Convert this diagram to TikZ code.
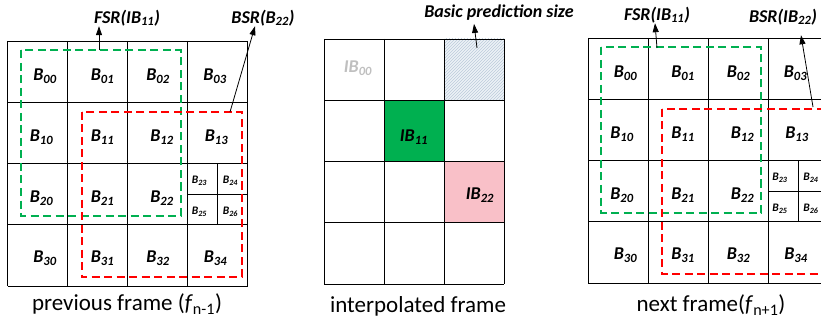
\documentclass[tikz,border=0pt]{standalone}
\usepackage{fontspec}
\setmainfont{Carlito}
\usepackage{tikz}
\usetikzlibrary{arrows.meta,patterns}
\definecolor{fsrc}{HTML}{00B050}
\definecolor{bsrc}{HTML}{FF0000}
\definecolor{pinkc}{HTML}{F9C0C8}
\definecolor{hatchbg}{HTML}{EDF2F7}
\definecolor{hatchc}{HTML}{BCCADA}
\newcommand{\blk}[2]{#1\textsubscript{#2}}
\tikzset{
  grd/.style={draw=black,line width=0.8pt},
  fsr/.style={draw=fsrc,line width=2pt,dash pattern=on 8pt off 4.5pt},
  bsr/.style={draw=bsrc,line width=2pt,dash pattern=on 8pt off 4.5pt},
  lb/.style={font=\fontsize{18}{21}\selectfont\bfseries\itshape,inner sep=0pt},
  slb/.style={font=\fontsize{11.5}{13}\selectfont\bfseries\itshape,inner sep=0pt},
  frcap/.style={font=\fontsize{23}{26}\selectfont,inner sep=0pt},
  ar/.style={-{Triangle[length=9pt,width=6pt]},line width=0.8pt},
  blockgrid/.pic={
    \foreach \i in {0,...,4} {
      \draw[grd] (60*\i,0) -- (60*\i,245);
      \draw[grd] (0,61.25*\i) -- (240,61.25*\i);
    }
    \draw[grd] (210,122.5) -- (210,183.75);
    \draw[grd] (180,153) -- (240,153);
    \foreach \n/\x/\y in {00/37.5/35,01/95/35,02/150.5/35,03/207.5/35,
                          10/34/96,11/95/96,12/154.5/96,13/209/96,
                          20/34/157,21/95/157,22/154.5/157,
                          30/37.5/217,31/95/217,32/150.5/217,34/208/217}
      \node[lb] (-b\n) at (\x,\y) {\blk{B}{\n}};
    \foreach \n/\x/\y in {23/192/140,24/223/140,25/192/171,26/223/171}
      \node[slb] (-b\n) at (\x,\y) {\blk{B}{\n}};
    \draw[fsr] (13,9.5) rectangle (173,174.5);
    \draw[bsr] (74,71) rectangle (234,236);
  }
}

\begin{document}
\begin{tikzpicture}[x=1pt,y=-1pt]
\useasboundingbox (0,0) rectangle (821,323);
\clip (0,0) rectangle (821,323);

% previous frame
\pic (pv) at (7.5,41) {blockgrid};
\node[lb] (pvfsr) at (127,18) {FSR(\blk{IB}{11})};
\node[lb] (pvbsr) at (263,18) {BSR(\blk{B}{22})};
\coordinate (pvf) at (99,50.5);
\coordinate (pvb) at (230,112);
\draw[ar] (pvf) -- (pvf |- pvfsr.south);
\draw[ar] (pvb) -- ([xshift=-8pt]pvbsr.south);
\node[frcap] (pvcap) at (127,304) {previous frame (\textit{f}\textsubscript{n-1})};

% interpolated frame
\fill[hatchbg] (444,39) rectangle (504,100.25);
\pattern[pattern=north east lines,pattern color=hatchc] (444,39) rectangle (504,100.25);
\fill[fsrc] (384,100.25) rectangle (444,161.5);
\fill[pinkc] (444,161.5) rectangle (504,222.75);
\foreach \i in {0,...,3} \draw[grd] (324+60*\i,39) -- (324+60*\i,284);
\foreach \j in {0,...,4} \draw[grd] (324,39+61.25*\j) -- (504,39+61.25*\j);
\node[lb,text=black!25] (ib00) at (358,68) {\blk{IB}{00}};
\node[lb] (ib11) at (414,137) {\blk{IB}{11}};
\node[lb] (ib22) at (480,195) {\blk{IB}{22}};
\node[lb] (bps) at (499,13) {Basic prediction size};
\coordinate (bpc) at (477,48);
\draw[ar] (bpc) -- ([xshift=-25pt,yshift=-3pt]bps.south);
\node[frcap] (mdcap) at (418,306) {interpolated frame};

% next frame
\pic (nx) at (588,38) {blockgrid};
\node[lb] (nxfsr) at (657,15) {FSR(\blk{IB}{11})};
\node[lb] (nxbsr) at (783,17) {BSR(\blk{IB}{22})};
\coordinate (nxf) at (657,48);
\coordinate (nxb) at (813,107);
\draw[ar] (nxf) -- ([xshift=-2pt]nxfsr.south);
\draw[ar] (nxb) -- ([xshift=18pt,yshift=-10pt]nxbsr.south);
\node[frcap] (nxcap) at (711,305) {next frame(\textit{f}\textsubscript{n+1})};
\end{tikzpicture}
\end{document}
